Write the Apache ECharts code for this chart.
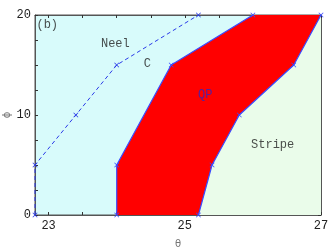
<!DOCTYPE html>
<html><head><meta charset="utf-8">
<script src="https://cdn.jsdelivr.net/npm/echarts@6/dist/echarts.min.js"></script>
<style>html,body{margin:0;padding:0;background:#fff}#c{width:332px;height:251px}</style>
</head><body><div id="c"></div>
<script>
// Phase boundaries (theta, phi)
const qpLeft = [[24, 0], [24, 5], [24.8, 15], [26, 20]];
const qpRight = [[25.2, 0], [25.4, 5], [25.8, 10], [26.6, 15], [27, 20]];
const neelC = [[22.8, 0], [22.8, 5], [23.4, 10], [24, 15], [25.2, 20]];
const stripeCorner = [[27, 20], [27, 0]];
const xTicks = [23, 23.5, 24, 24.5, 25, 25.5, 26, 26.5, 27];
const xLabels = [23, 25, 27];
const yTicks = [0, 2.5, 5, 7.5, 10, 12.5, 15, 17.5, 20];
const yLabels = [0, 10, 20];
const texts = [
  ['(b)', 22.98, 19.0, '#222'],
  ['Neel', 23.98, 17.1, '#222'],
  ['C', 24.45, 15.1, '#222'],
  ['QP', 25.3, 12.0, '#2828c8'],
  ['Stripe', 26.29, 7.0, '#222']
];

const qpPoly = qpLeft.concat(qpRight.slice().reverse());
const stripePoly = qpRight.concat(stripeCorner.slice(1));

const cross = 'path://M0,1L1,0L5,4L9,0L10,1L6,5L10,9L9,10L5,6L1,10L0,9L4,5Z';
const FONT = 'Liberation Mono';

function polySeries(pts, color) {
  return {
    type: 'custom',
    coordinateSystem: 'cartesian2d',
    data: [0],
    silent: true,
    renderItem: function (params, api) {
      return {
        type: 'polygon',
        shape: { points: pts.map(p => api.coord(p)) },
        style: { fill: color, stroke: null }
      };
    },
    z: 1
  };
}

const axisLineStyle = { color: '#555', width: 1 };
const chart = echarts.init(document.getElementById('c'));
chart.setOption({
  animation: false,
  grid: { left: 35, right: 11, top: 15, bottom: 36, outerBoundsMode: 'none', containLabel: false, show: true, backgroundColor: '#d8fbfb', borderColor: '#555', borderWidth: 1 },
  xAxis: [{
    type: 'value', min: 22.8, max: 27, position: 'bottom',
    name: 'θ', nameLocation: 'middle', nameGap: 24, nameMoveOverlap: false,
    nameTextStyle: { color: '#777', fontSize: 10, fontFamily: 'DejaVu Sans' },
    axisLine: { show: true, onZero: false, lineStyle: axisLineStyle },
    axisTick: { show: true, inside: true, length: 3, customValues: xTicks, lineStyle: { color: '#333' } },
    axisLabel: { customValues: xLabels, color: '#222', fontSize: 12, fontFamily: FONT, margin: 5 },
    splitLine: { show: false }
  }, {
    type: 'value', min: 22.8, max: 27, position: 'top',
    axisLine: { show: true, onZero: false, lineStyle: axisLineStyle },
    axisTick: { show: true, inside: true, length: 3, customValues: xTicks, lineStyle: { color: '#333' } },
    axisLabel: { show: false },
    splitLine: { show: false }
  }],
  yAxis: [{
    type: 'value', min: 0, max: 20, position: 'left',
    name: 'ϕ', nameLocation: 'middle', nameGap: 23, nameRotate: 90, nameMoveOverlap: false,
    nameTextStyle: { color: '#777', fontSize: 10, fontFamily: 'DejaVu Sans' },
    axisLine: { show: true, onZero: false, lineStyle: axisLineStyle },
    axisTick: { show: true, inside: true, length: 3, customValues: yTicks, lineStyle: { color: '#333' } },
    axisLabel: { customValues: yLabels, color: '#222', fontSize: 12, fontFamily: FONT, margin: 4 },
    splitLine: { show: false }
  }, {
    type: 'value', min: 0, max: 20, position: 'right',
    axisLine: { show: true, onZero: false, lineStyle: axisLineStyle },
    axisTick: { show: true, inside: true, length: 3, customValues: yTicks, lineStyle: { color: '#333' } },
    axisLabel: { show: false },
    splitLine: { show: false }
  }],
  series: [
    polySeries(stripePoly, '#eafcea'),
    polySeries(qpPoly, '#ff0000'),
    {
      type: 'line', data: qpLeft, z: 3, symbol: cross, symbolSize: 5, showSymbol: true,
      lineStyle: { color: '#3a4bff', width: 1.2 }, itemStyle: { color: '#3a4bff' }
    },
    {
      type: 'line', data: qpRight, z: 3, symbol: cross, symbolSize: 5, showSymbol: true,
      lineStyle: { color: '#3a4bff', width: 1.2 }, itemStyle: { color: '#3a4bff' }
    },
    {
      type: 'line', data: neelC, z: 3, symbol: cross, symbolSize: 5, showSymbol: true,
      lineStyle: { color: '#2a3ae8', width: 1, type: [4, 3] }, itemStyle: { color: '#2a3ae8' }
    },
    {
      type: 'scatter', z: 5, symbol: 'circle', symbolSize: 1, silent: true,
      itemStyle: { color: 'rgba(0,0,0,0)' },
      data: texts.map(t => ({ value: [t[1], t[2]], name: t[0], label: { color: t[3] } })),
      label: { show: true, position: 'inside', formatter: p => p.name, fontFamily: FONT, fontSize: 12, textBorderWidth: 0 }
    }
  ]
});
</script></body></html>
